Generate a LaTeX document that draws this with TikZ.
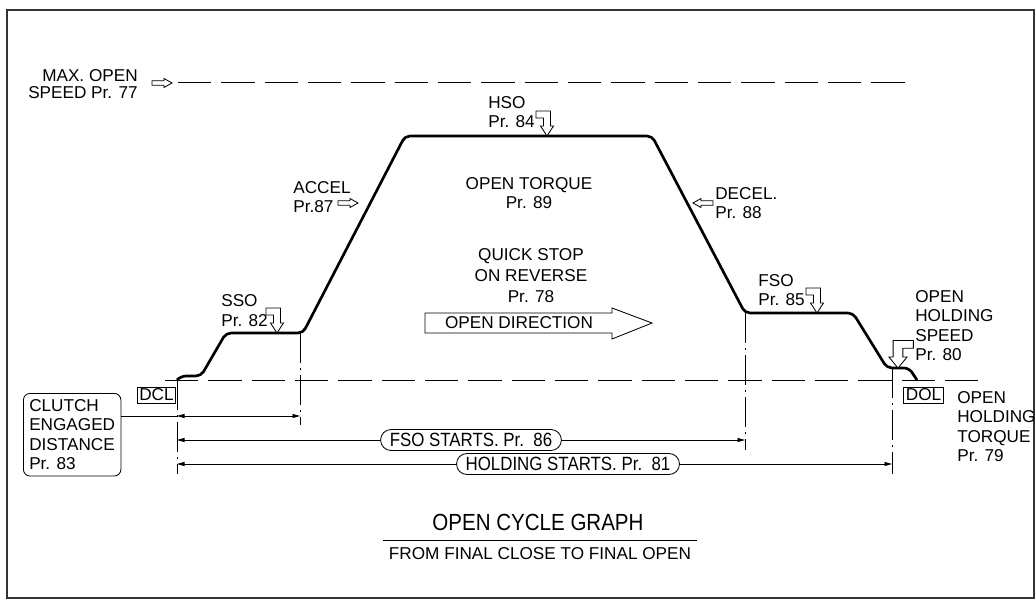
\documentclass[tikz,border=0pt]{standalone}
\usepackage{fontspec}
\setmainfont{Liberation Sans}
\usepackage{tikz}
\usetikzlibrary{arrows.meta, shapes.misc, positioning}

\begin{document}
\begin{tikzpicture}[x=0.6pt, y=-0.6pt,
    font=\fontsize{10.3}{11.7}\selectfont,
    lbl/.style={inner sep=0pt, align=left, anchor=west},
    curve/.style={line width=1.6pt, rounded corners=3pt},
    dashln/.style={line width=0.6pt, dash pattern=on 20pt off 6pt},
    extln/.style={line width=0.5pt, dash pattern=on 18pt off 3pt on 1.2pt off 3pt},
    dimln/.style={line width=0.5pt, {Triangle[length=4.5pt,width=2.4pt]}-{Triangle[length=4.5pt,width=2.4pt]}},
    tagbox/.style={draw, line width=0.5pt, inner xsep=1.3pt, inner ysep=0pt, minimum height=9.6pt},
    oval/.style={rounded rectangle, draw, fill=white, line width=0.5pt, inner xsep=4pt, inner ysep=0pt, minimum height=12.6pt, font=\fontsize{11.5}{12}\selectfont},
    harrow/.pic={\draw[line width=0.5pt, fill=white] (0,-2.2) -- (12,-2.2) -- (12,-4.5) -- (20,0) -- (12,4.5) -- (12,2.2) -- (0,2.2) -- cycle;},
    hookarrow/.pic={\draw[line width=0.5pt, fill=white] (-11,-25) -- (3.5,-25) -- (3.5,-10) -- (6.5,-10) -- (0,0) -- (-6.5,-10) -- (-3.5,-10) -- (-3.5,-18) -- (-11,-18) -- cycle;}]
    \useasboundingbox (0,0) rectangle (1035,599);
    % Frame
    \draw[line width=0.8pt, black!80] (7,10) rectangle (1034,598);

    % Levels
    \draw[dashln] (178,83) -- (905,83);
    \draw[dashln] (165,380) -- (982,380);

    % Extension lines
    \draw[extln] (177,380) -- (177,474);
    \draw[extln] (300,333) -- (300,425);
    \draw[extln] (745,313) -- (745,450);
    \draw[extln] (892,368) -- (892,474);

    % Speed curve
    \draw[curve] (177,380) -- (181,376) -- (201,376) -- (226,333) -- (303,333) -- (405,136) -- (652,136)
        -- (745,313) -- (853,313) -- (887,368) -- (909,368) -- (917,380);

    % Labels
    \node[lbl, anchor=east, align=right, font=\fontsize{10.3}{10.2}\selectfont] (maxopen) at (138,84.5) {MAX. OPEN\\SPEED Pr. 77};
    \pic at (152,83) {harrow};
    \node[lbl] (accel) at (293,197) {ACCEL\\Pr.87};
    \pic at (338,203) {harrow};
    \node[lbl] (hso) at (488,112) {HSO\\Pr. 84};
    \pic at (547,136) {hookarrow};
    \node[align=center, inner sep=0pt] (torque) at (529,193) {OPEN TORQUE\\Pr. 89};
    \node[lbl] (decel) at (715,203) {DECEL.\\Pr. 88};
    \pic[rotate=180] at (713,203) {harrow};
    \node[align=center, inner sep=0pt, font=\fontsize{10.3}{12.8}\selectfont] (quick) at (531,275.5) {QUICK STOP\\ON REVERSE\\Pr. 78};
    \node[lbl] (sso) at (221,310.5) {SSO\\Pr. 82};
    \pic at (277,333) {hookarrow};
    \node[lbl] (fso) at (758,290) {FSO\\Pr. 85};
    \pic at (817,313) {hookarrow};
    \node[lbl] (hspeed) at (915,325.5) {OPEN\\HOLDING\\SPEED\\Pr. 80};
    \pic[xscale=-1.4, yscale=1.1] at (898,368) {hookarrow};
    \node[lbl] (htorque) at (957,426.5) {OPEN\\HOLDING\\TORQUE\\Pr. 79};

    % Open direction
    \draw[line width=0.5pt] (425,313) -- (612,313) -- (612,308) -- (652,323) -- (612,339) -- (612,333) -- (425,333) -- cycle;
    \node (opendir) at (519,323) {OPEN DIRECTION};

    % End boxes
    \node[tagbox] (dcl) at (156.5,395) {DCL};
    \node[tagbox] (dol) at (923.5,395) {DOL};
    \node[draw, rounded corners=4pt, line width=0.5pt, align=left, inner xsep=3.5pt, inner ysep=3.6pt, anchor=north west] (clutch) at (23,393) {CLUTCH\\ENGAGED\\DISTANCE\\Pr. 83};

    % Dimensions
    \coordinate (c1) at (177,416);
    \coordinate (c2) at (300,416);
    \draw[line width=0.5pt] (clutch.east |- c1) -- (c1);
    \draw[dimln] (c1) -- (c2);
    \coordinate (f1) at (177,440);
    \coordinate (f2) at (745,440);
    \draw[dimln] (f1) -- (f2);
    \node[oval] (fsostart) at (471,440) {\scalebox{0.88}[1]{FSO STARTS. Pr.\ \ 86}};
    \coordinate (h1) at (177,464);
    \coordinate (h2) at (892,464);
    \draw[dimln] (h1) -- (h2);
    \node[oval] (holdstart) at (568,464) {\scalebox{0.88}[1]{HOLDING STARTS. Pr.\ \ 81}};

    % Title
    \node[font=\fontsize{14}{14}\selectfont] (title) at (538,522) {\scalebox{0.88}[1]{OPEN CYCLE GRAPH}};
    \draw[line width=0.6pt] (383,540) -- (697,540);
    \node (subtitle) at (540,554) {FROM FINAL CLOSE TO FINAL OPEN};
\end{tikzpicture}
\end{document}
